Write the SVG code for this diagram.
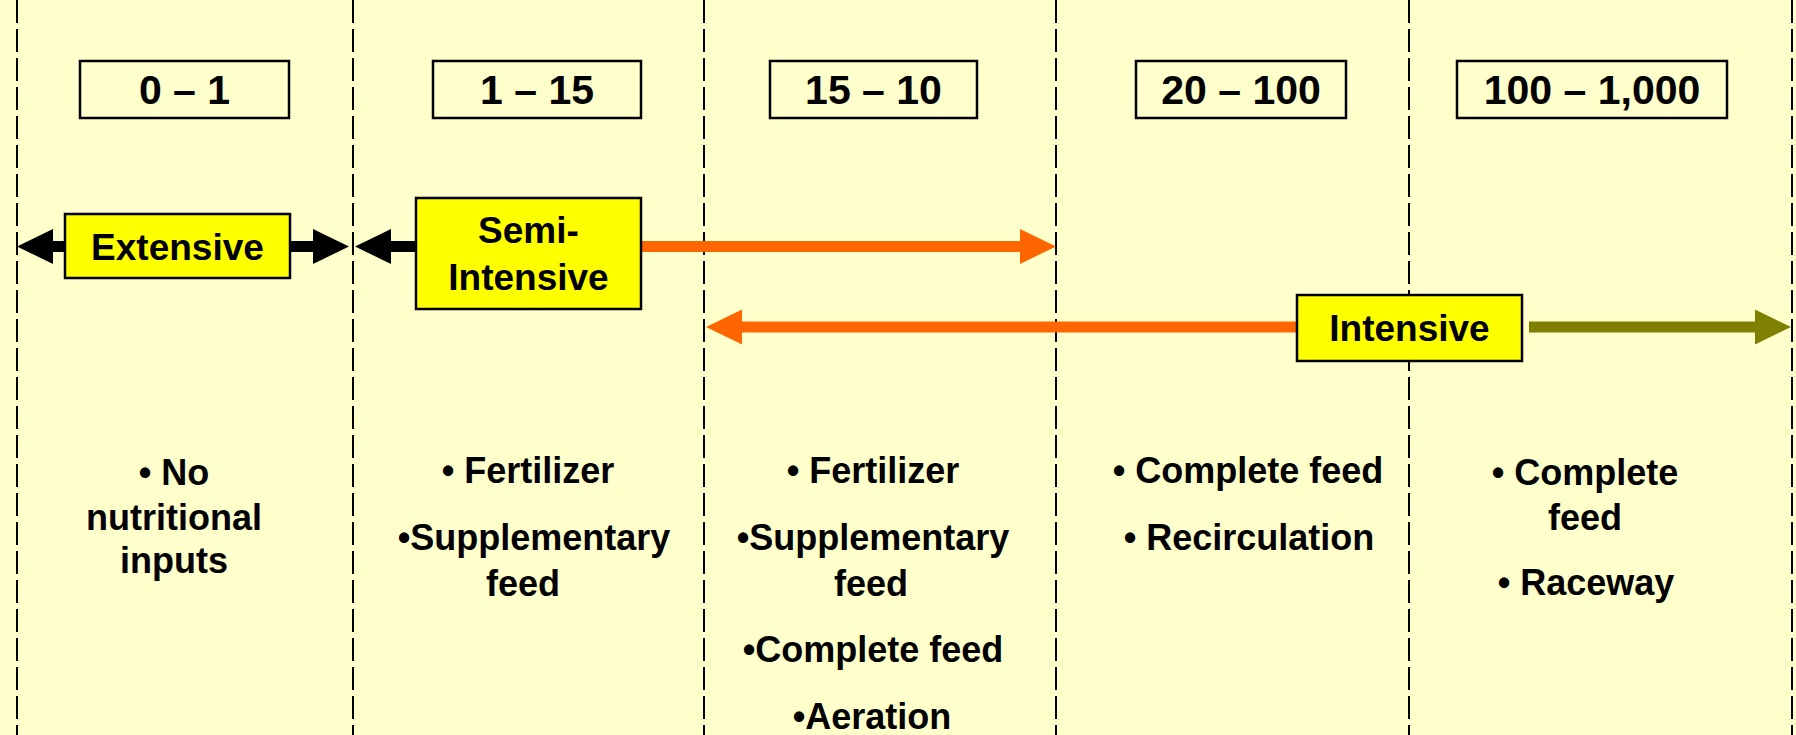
<svg xmlns="http://www.w3.org/2000/svg" width="1796" height="735" viewBox="0 0 1796 735">
<defs>
<style>
.div{stroke:#000;stroke-width:2;stroke-dasharray:23 6;fill:none}
.rng{fill:#FFFFCC;stroke:#000;stroke-width:2.5}
.lbl{fill:#FFFF00;stroke:#000;stroke-width:2.5}
.t{font-family:"Liberation Sans",Arial,sans-serif;font-weight:bold;fill:#000;text-anchor:middle}
.big{font-size:41px}
.mid{font-size:37px}
.bul{font-size:36px}
</style>
</defs>
<rect width="1796" height="735" fill="#FFFFCC"/>
<g id="dividers">
<line class="div" x1="17" y1="0" x2="17" y2="735"/>
<line class="div" x1="353" y1="0" x2="353" y2="735"/>
<line class="div" x1="704" y1="0" x2="704" y2="735"/>
<line class="div" x1="1056" y1="0" x2="1056" y2="735"/>
<line class="div" x1="1409" y1="0" x2="1409" y2="735"/>
<line class="div" x1="1792" y1="0" x2="1792" y2="735"/>
</g>
<g id="range1"><rect class="rng" x="80" y="61" width="209" height="57"/><text class="t big" x="184.5" y="104">0 – 1</text></g>
<g id="range2"><rect class="rng" x="433" y="61" width="208" height="57"/><text class="t big" x="537" y="104">1 – 15</text></g>
<g id="range3"><rect class="rng" x="770" y="61" width="207" height="57"/><text class="t big" x="873.5" y="104">15 – 10</text></g>
<g id="range4"><rect class="rng" x="1136" y="61" width="210" height="57"/><text class="t big" x="1241" y="104">20 – 100</text></g>
<g id="range5"><rect class="rng" x="1457" y="61" width="270" height="57"/><text class="t big" x="1592" y="104">100 – 1,000</text></g>
<g id="connectors">
<rect x="50" y="241" width="268" height="11" fill="#000"/>
<polygon points="17,246.5 53,229 53,264" fill="#000"/>
<polygon points="349,246.5 313,229 313,264" fill="#000"/>
<rect x="388" y="241" width="32" height="11" fill="#000"/>
<polygon points="355,246.5 391,229 391,264" fill="#000"/>
<rect x="641" y="241" width="383" height="11" fill="#FF6600"/>
<polygon points="1056,246.5 1020,229 1020,264" fill="#FF6600"/>
<rect x="738" y="321.5" width="562" height="11" fill="#FF6600"/>
<polygon points="706,327 742,309.5 742,344.5" fill="#FF6600"/>
<rect x="1529" y="321.5" width="230" height="11" fill="#808000"/>
<polygon points="1791,327 1755,309.5 1755,344.5" fill="#808000"/>
</g>
<g id="extensive"><rect class="lbl" x="65" y="214" width="225" height="64"/><text class="t mid" x="177.5" y="260">Extensive</text></g>
<g id="semi-intensive"><rect class="lbl" x="416" y="198" width="225" height="111"/><text class="t mid" x="528.5" y="243">Semi-</text><text class="t mid" x="528.5" y="290">Intensive</text></g>
<g id="intensive"><rect class="lbl" x="1297" y="295" width="225" height="66"/><text class="t mid" x="1409.5" y="341">Intensive</text></g>
<g id="col1"><text class="t bul" x="174" y="485">• No</text><text class="t bul" x="174" y="530">nutritional</text><text class="t bul" x="174" y="573">inputs</text></g>
<g id="col2"><text class="t bul" x="528" y="483">• Fertilizer</text><text class="t bul" x="534" y="550">•Supplementary</text><text class="t bul" x="523" y="596">feed</text></g>
<g id="col3"><text class="t bul" x="873" y="483">• Fertilizer</text><text class="t bul" x="873" y="550">•Supplementary</text><text class="t bul" x="871" y="596">feed</text><text class="t bul" x="873" y="662">•Complete feed</text><text class="t bul" x="872" y="729">•Aeration</text></g>
<g id="col4"><text class="t bul" x="1248" y="483">• Complete feed</text><text class="t bul" x="1249" y="550">• Recirculation</text></g>
<g id="col5"><text class="t bul" x="1585" y="485">• Complete</text><text class="t bul" x="1585" y="530">feed</text><text class="t bul" x="1586" y="595">• Raceway</text></g>
</svg>
